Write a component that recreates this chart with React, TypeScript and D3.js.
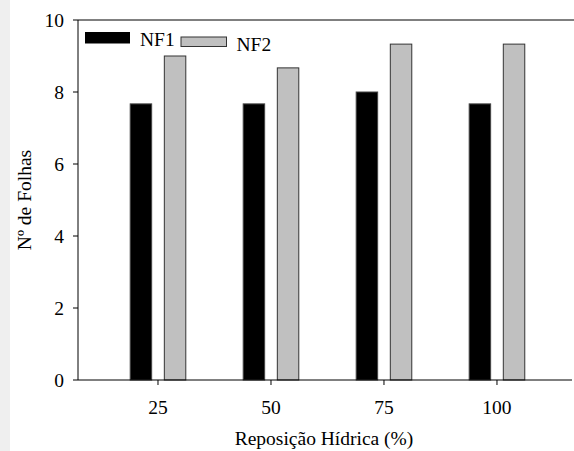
import React from "react";
import * as d3 from "d3";

const categories = [25, 50, 75, 100];
const nf1 = [7.67, 7.67, 8.0, 7.67];
const nf2 = [9.0, 8.67, 9.33, 9.33];
const yTicks = [0, 2, 4, 6, 8, 10];
const seriesNames = ["NF1", "NF2"];

const W = 574;
const H = 451;
const left = 78;
const right = 572;
const top = 20;
const bottom = 380;
const font = "'Liberation Serif', serif";
const fs = 19.5;

export default function App() {
  const x = d3.scaleLinear().domain([7.3, 116.6]).range([left, right]);
  const y = d3.scaleLinear().domain([0, 10]).range([bottom, top]);
  const barW = x(4.75) - x(0);
  const gap = x(2.8) - x(0);

  return (
    <svg width={W} height={H} style={{ position: "absolute", left: 0, top: 0, background: "#fff" }}>
      <rect x={0} y={0} width={10} height={H} fill="#efefef" />
      {categories.map((c, i) => {
        const cx = x(c);
        return (
          <g key={c}>
            <rect x={cx - gap / 2 - barW} y={y(nf1[i])} width={barW} height={bottom - y(nf1[i])} fill="#000" stroke="#444" strokeWidth={1} />
            <rect x={cx + gap / 2} y={y(nf2[i])} width={barW} height={bottom - y(nf2[i])} fill="#c0c0c0" stroke="#333" strokeWidth={1} />
          </g>
        );
      })}
      <line x1={left} x2={left} y1={top} y2={bottom} stroke="#000" strokeWidth={1} />
      <line x1={left} x2={right} y1={bottom} y2={bottom} stroke="#000" strokeWidth={1} />
      <line x1={left} x2={W} y1={top} y2={top} stroke="#000" strokeWidth={1} />
      {yTicks.map((t) => (
        <g key={t}>
          <line x1={left - 5} x2={left} y1={y(t)} y2={y(t)} stroke="#000" />
          <text x={64} y={y(t) + 6.5} textAnchor="end" fontFamily={font} fontSize={fs} fill="#000">
            {t}
          </text>
        </g>
      ))}
      {categories.map((c) => (
        <g key={c}>
          <line x1={x(c)} x2={x(c)} y1={bottom} y2={bottom + 5} stroke="#000" />
          <text x={x(c)} y={414} textAnchor="middle" fontFamily={font} fontSize={fs} fill="#000">
            {c}
          </text>
        </g>
      ))}
      <text x={324} y={445} textAnchor="middle" fontFamily={font} fontSize={fs} fill="#000">
        Reposição Hídrica (%)
      </text>
      <text transform="translate(31,200) rotate(-90)" textAnchor="middle" fontFamily={font} fontSize={fs} fill="#000">
        Nº de Folhas
      </text>
      <rect x={85} y={32} width={45} height={11.5} fill="#000" />
      <text x={140} y={45.5} fontFamily={font} fontSize={fs} fill="#000">{seriesNames[0]}</text>
      <rect x={181} y={37} width={45.5} height={9.5} fill="#c0c0c0" stroke="#333" strokeWidth={1} />
      <text x={236.5} y={50.5} fontFamily={font} fontSize={fs} fill="#000">{seriesNames[1]}</text>
    </svg>
  );
}
